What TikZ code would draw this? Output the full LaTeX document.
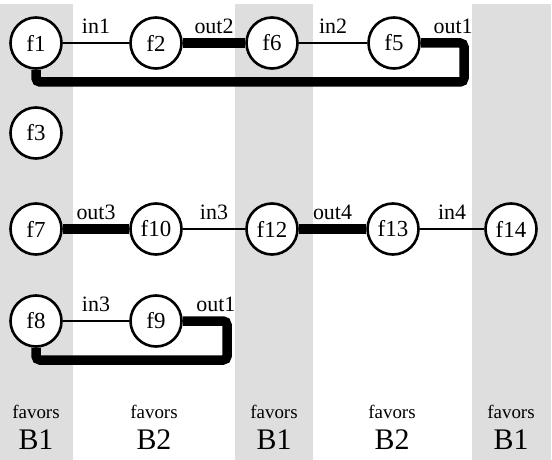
\documentclass[tikz,border=0pt]{standalone}
\usepackage{fontspec}
\setmainfont{Liberation Serif}
\begin{document}
\begin{tikzpicture}[x=1bp,y=-1bp,
  fnode/.style={circle,draw,line width=2.6bp,fill=white,minimum size=51bp,inner sep=0pt,font=\fontsize{23}{25}\selectfont},
  thin/.style={line width=1.8bp},
  thick/.style={line width=9.5bp},
  loop/.style={line width=9.5bp,rounded corners=4bp},
  lab/.style={font=\fontsize{22}{24}\selectfont,inner sep=0pt,anchor=base,yshift=9.5bp},
  fav/.style={font=\fontsize{19}{21}\selectfont},
  bb/.style={font=\fontsize{30}{32}\selectfont}]
\useasboundingbox (0,0) rectangle (552,460);
\fill[white] (0,0) rectangle (552,460);
\fill[black!13] (0,4) rectangle (73,460);
\fill[black!13] (235,4) rectangle (313,460);
\fill[black!13] (472,4) rectangle (551,460);
\coordinate (c1) at (464,43);
\coordinate (c2) at (464,82);
\coordinate (c3) at (36,82);
\coordinate (d1) at (227,321);
\coordinate (d2) at (227,360);
\coordinate (d3) at (36,360);
\node[fnode] (f1) at (36,43) {f1};
\node[fnode] (f2) at (156,43) {f2};
\node[fnode] (f6) at (272,43) {f6};
\node[fnode] (f5) at (394,43) {f5};
\node[fnode] (f3) at (36,133) {f3};
\node[fnode] (f7) at (36,229) {f7};
\node[fnode] (f10) at (156,229) {f10};
\node[fnode] (f12) at (272,229) {f12};
\node[fnode] (f13) at (393,229) {f13};
\node[fnode] (f14) at (511,229) {f14};
\node[fnode] (f8) at (36,321) {f8};
\node[fnode] (f9) at (156,321) {f9};
\draw[thin] (f1) -- node[lab]{in1} (f2);
\draw[thick] (f2) -- node[lab]{out2} (f6);
\draw[thin] (f6) -- node[lab]{in2} (f5);
\draw[loop] (f5.east) -- (c1) -- (c2) -- (c3) -- (f1.south);
\path (f5.east) -- node[lab,pos=0.75] (o1) {out1} (c1);
\draw[thick] (f7) -- node[lab]{out3} (f10);
\draw[thin] (f10) -- node[lab]{in3} (f12);
\draw[thick] (f12) -- node[lab]{out4} (f13);
\draw[thin] (f13) -- node[lab]{in4} (f14);
\draw[thin] (f8) -- node[lab]{in3} (f9);
\draw[loop] (f9.east) -- (d1) -- (d2) -- (d3) -- (f8.south);
\path (f9.east) -- node[lab,pos=0.75] (o2) {out1} (d1);
\node[fav] (a1) at (36,412) {favors};
\node[bb] (b1) at (36,440) {B1};
\node[fav] (a2) at (154,412) {favors};
\node[bb] (b2) at (154,440) {B2};
\node[fav] (a3) at (274,412) {favors};
\node[bb] (b3) at (274,440) {B1};
\node[fav] (a4) at (392,412) {favors};
\node[bb] (b4) at (392,440) {B2};
\node[fav] (a5) at (511,412) {favors};
\node[bb] (b5) at (511,440) {B1};
\end{tikzpicture}
\end{document}
